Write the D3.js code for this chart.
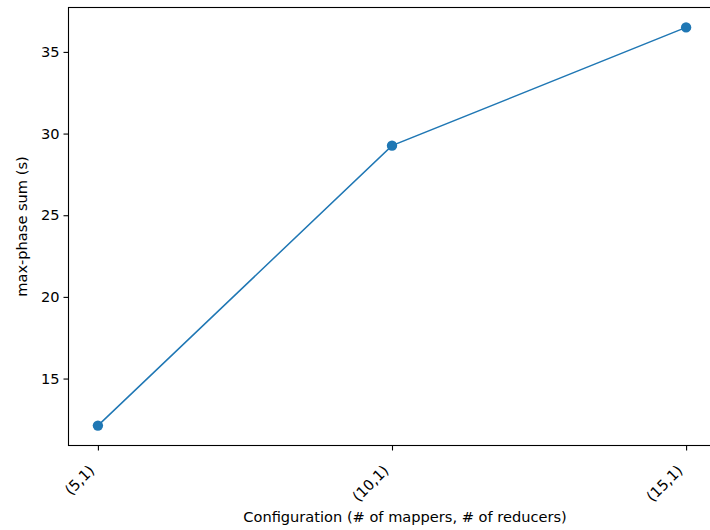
<!DOCTYPE html>
<html>
<head>
<meta charset="utf-8">
<script src="https://cdn.jsdelivr.net/npm/d3@7"></script>
<style>
  html, body { margin: 0; padding: 0; background: #fff; }
  svg { display: block; font-family: "DejaVu Sans", sans-serif; }
</style>
</head>
<body>
<svg id="chart" width="710" height="530"></svg>
<script>
// Configurations (mappers, reducers) and the measured max-phase sum in seconds
const configs = ["(5,1)", "(10,1)", "(15,1)"];
const phaseSum = [12.12, 29.26, 36.5];
const yTicks = [15, 20, 25, 30, 35];

const xLabel = "Configuration (# of mappers, # of reducers)";
const yLabel = "max-phase sum (s)";

const svg = d3.select("#chart");
const plot = { left: 68.5, right: 715.5, top: 7.5, bottom: 445.5 };

// Categorical positions 0..n-1 with 5% padding on each side
const x = d3.scaleLinear()
  .domain([-0.1, configs.length - 1 + 0.1])
  .range([plot.left, plot.right]);

const yMin = d3.min(phaseSum), yMax = d3.max(phaseSum);
const pad = (yMax - yMin) * 0.05;
const y = d3.scaleLinear()
  .domain([yMin - pad, yMax + pad])
  .range([plot.bottom, plot.top]);

const color = "#1f77b4";
const fontSize = "14.6px";

// Frame
svg.append("rect")
  .attr("x", plot.left).attr("y", plot.top)
  .attr("width", plot.right - plot.left)
  .attr("height", plot.bottom - plot.top)
  .attr("fill", "none").attr("stroke", "#000").attr("stroke-width", 1.1);

// Y axis
const yAxis = svg.append("g")
  .attr("transform", `translate(${plot.left},0)`)
  .call(d3.axisLeft(y).tickValues(yTicks).tickSize(5).tickPadding(4).tickFormat(d3.format("d")));
yAxis.select(".domain").remove();
yAxis.selectAll("line").attr("stroke", "#000").attr("stroke-width", 1.1);
yAxis.selectAll("text").attr("font-size", fontSize).attr("fill", "#000")
  .attr("font-family", "DejaVu Sans");

// X axis with rotated category labels
const xAxis = svg.append("g")
  .attr("transform", `translate(0,${plot.bottom})`)
  .call(d3.axisBottom(x).tickValues(d3.range(configs.length)).tickSize(5)
    .tickFormat(i => configs[i]));
xAxis.select(".domain").remove();
xAxis.selectAll("line").attr("stroke", "#000").attr("stroke-width", 1.1);
xAxis.selectAll("text")
  .attr("font-size", fontSize).attr("fill", "#000")
  .attr("font-family", "DejaVu Sans")
  .attr("text-anchor", "end")
  .attr("dy", null)
  .attr("y", 0)
  .attr("transform", "translate(-3,26) rotate(-45)");

// Axis titles
svg.append("text")
  .attr("x", (plot.left + plot.right) / 2 + 13)
  .attr("y", 522)
  .attr("text-anchor", "middle")
  .attr("font-size", fontSize)
  .text(xLabel);

svg.append("text")
  .attr("transform", `translate(27,${(plot.top + plot.bottom) / 2}) rotate(-90)`)
  .attr("text-anchor", "middle")
  .attr("font-size", fontSize)
  .text(yLabel);

// Series line and markers
const line = d3.line()
  .x((d, i) => x(i))
  .y(d => y(d));

svg.append("path")
  .datum(phaseSum)
  .attr("d", line)
  .attr("fill", "none")
  .attr("stroke", color)
  .attr("stroke-width", 1.5);

svg.selectAll("circle.pt")
  .data(phaseSum)
  .join("circle")
  .attr("class", "pt")
  .attr("cx", (d, i) => x(i))
  .attr("cy", d => y(d))
  .attr("r", 5.2)
  .attr("fill", color);
</script>
</body>
</html>
